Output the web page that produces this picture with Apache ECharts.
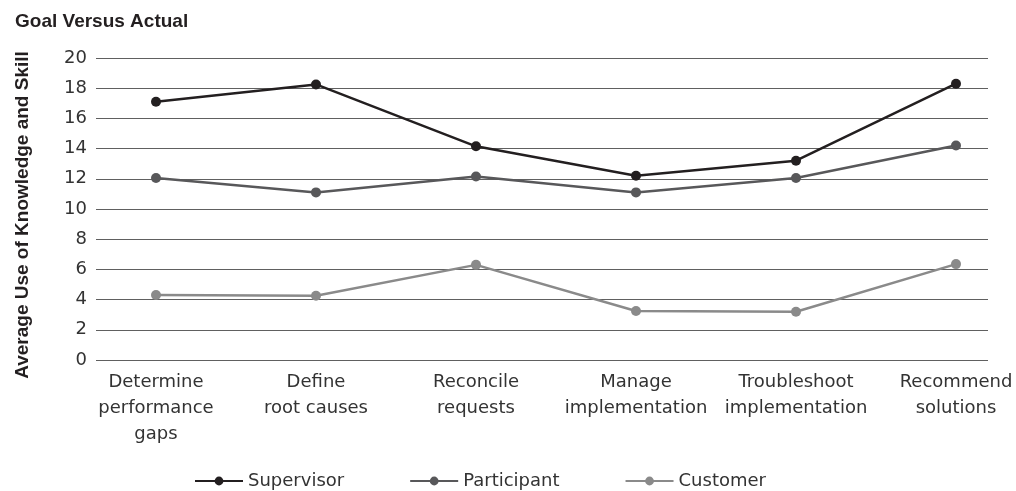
<!DOCTYPE html>
<html>
<head>
<meta charset="utf-8">
<script src="https://cdn.jsdelivr.net/npm/echarts@6/dist/echarts.min.js"></script>
<style>
  html, body { margin: 0; padding: 0; background: #ffffff; }
  #chart { width: 1016px; height: 491px; }
</style>
</head>
<body>
<div id="chart"></div>
<script>
// Skill areas along the x axis
const categories = [
  'Determine\nperformance\ngaps',
  'Define\nroot causes',
  'Reconcile\nrequests',
  'Manage\nimplementation',
  'Troubleshoot\nimplementation',
  'Recommend\nsolutions'
];

// Average use of knowledge and skill, by rater group
const supervisor  = [17.1, 18.25, 14.15, 12.2, 13.2, 18.3];
const participant = [12.05, 11.1, 12.15, 11.1, 12.05, 14.2];
const customer    = [4.3, 4.25, 6.3, 3.25, 3.2, 6.35];

// Y axis range and step
const yMin = 0;
const yMax = 20;
const yStep = 2;

const seriesNames  = ['Supervisor', 'Participant', 'Customer'];
const seriesColors = ['#231f20', '#58585a', '#8a8a8a'];
const seriesData   = [supervisor, participant, customer];

const chart = echarts.init(document.getElementById('chart'), null, { renderer: 'canvas' });

const textFont = 'DejaVu Sans';

const option = {
  animation: false,
  backgroundColor: '#ffffff',
  title: {
    text: 'Goal Versus Actual',
    left: 10,
    top: 7,
    textStyle: { fontFamily: 'Liberation Sans', fontWeight: 'bold', fontSize: 19, color: '#231f20' }
  },
  legend: {
    left: 189,
    top: 467,
    itemWidth: 48,
    itemHeight: 11,
    itemGap: 65,
    data: seriesNames,
    textStyle: { fontFamily: textFont, fontSize: 18, color: '#333333', padding: [0, 0, 0, 0] }
  },
  grid: [
    // frame for the value axis and its gridlines
    { left: 96, right: 28, top: 58, bottom: 131 },
    // plotting area for the lines and category labels
    { left: 156, right: 60, top: 58, bottom: 131 }
  ],
  xAxis: [
    {
      gridIndex: 0,
      type: 'value',
      min: 0, max: 1,
      show: false
    },
    {
      gridIndex: 1,
      type: 'category',
      boundaryGap: false,
      data: categories,
      axisLine: { show: false },
      axisTick: { show: false },
      splitLine: { show: false },
      axisLabel: {
        interval: 0,
        margin: 9,
        fontFamily: textFont,
        fontSize: 18,
        lineHeight: 26,
        color: '#333333',
        align: 'center'
      }
    }
  ],
  yAxis: [
    {
      gridIndex: 0,
      type: 'value',
      min: yMin, max: yMax, interval: yStep,
      axisLine: { show: false },
      axisTick: { show: false },
      axisLabel: {
        margin: 9,
        fontFamily: textFont,
        fontSize: 18,
        color: '#333333'
      },
      splitLine: { show: true, lineStyle: { color: '#606060', width: 1 } }
    },
    {
      gridIndex: 1,
      type: 'value',
      min: yMin, max: yMax, interval: yStep,
      show: false,
      splitLine: { show: false }
    }
  ],
  graphic: [
    {
      type: 'text',
      x: 23,
      y: 215,
      rotation: Math.PI / 2,
      style: {
        text: 'Average Use of Knowledge and Skill',
        font: 'bold 19px "Liberation Sans"',
        fill: '#231f20',
        textAlign: 'center',
        textVerticalAlign: 'middle'
      }
    }
  ],
  series: seriesNames.map((name, i) => ({
    name: name,
    type: 'line',
    xAxisIndex: 1,
    yAxisIndex: 1,
    data: seriesData[i],
    symbol: 'circle',
    symbolSize: 10,
    color: seriesColors[i],
    lineStyle: { width: 2.5, color: seriesColors[i] },
    itemStyle: { color: seriesColors[i] },
    z: 3 - i
  }))
};

chart.setOption(option);
</script>
</body>
</html>
